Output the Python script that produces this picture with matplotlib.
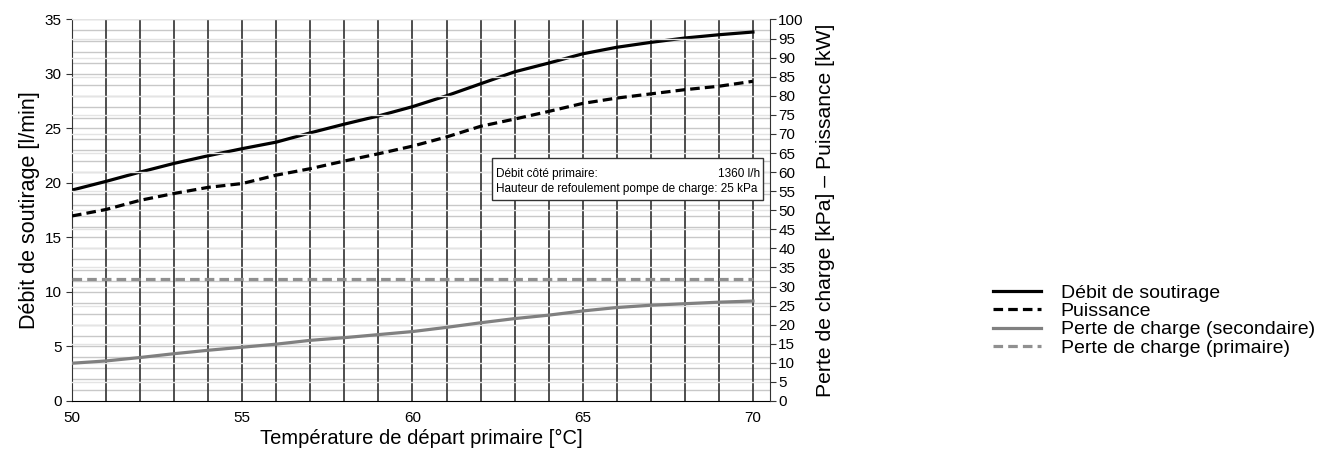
import matplotlib.pyplot as plt
from matplotlib.lines import Line2D

plt.rcParams['font.family'] = ['Liberation Sans', 'DejaVu Sans']

temps = [50, 51, 52, 53, 54, 55, 56, 57, 58, 59, 60, 61, 62, 63, 64, 65, 66, 67, 68, 69, 70]
debit = [19.35, 20.15, 21.0, 21.8, 22.5, 23.15, 23.75, 24.6, 25.4, 26.15, 27.0, 28.0,
         29.1, 30.2, 31.0, 31.85, 32.45, 32.9, 33.3, 33.6, 33.85]
puissance = [48.5, 50.2, 52.6, 54.4, 56.0, 57.0, 59.2, 60.9, 62.9, 64.8, 66.8, 69.2,
             72.0, 73.9, 75.9, 78.0, 79.4, 80.5, 81.6, 82.5, 83.8]
perte_sec = [9.9, 10.5, 11.4, 12.4, 13.3, 14.1, 14.9, 15.9, 16.6, 17.4, 18.2, 19.3,
             20.5, 21.6, 22.5, 23.6, 24.5, 25.1, 25.5, 25.9, 26.2]
perte_prim = [32] * len(temps)

labels = ["Débit de soutirage", "Puissance",
          "Perte de charge (secondaire)", "Perte de charge (primaire)"]

fig = plt.figure(figsize=(13.36, 4.5), dpi=100)
ax = fig.add_axes([0.0539, 0.1089, 0.5224, 0.8478])
ax2 = ax.twinx()

ax.set_xlim(50, 70.5)
ax.set_ylim(0, 35)
ax2.set_ylim(0, 100)

# grid: right-axis lines every 5, left-axis lines every 1, verticals every degree
for v in range(5, 101, 5):
    ax2.axhline(v, color='#e4e4e4', lw=1.0, zorder=0)
for v in range(1, 36):
    ax.axhline(v, color='#c8c8c8', lw=1.0, zorder=0)
for t in range(51, 71):
    ax.axvline(t, color='#404040', lw=1.3, zorder=1)

ax.plot(temps, debit, color='black', lw=2.3, zorder=3)
ax2.plot(temps, puissance, color='black', lw=2.3, ls=(0, (3, 1.6)), zorder=3)
ax2.plot(temps, perte_sec, color='#808080', lw=2.3, zorder=3)
ax2.plot(temps, perte_prim, color='#909090', lw=2.3, ls=(0, (3, 1.6)), zorder=3)

ax.set_xticks([50, 55, 60, 65, 70])
ax.set_yticks(range(0, 36, 5))
ax2.set_yticks(range(0, 101, 5))
ax.tick_params(axis='x', length=0, labelsize=11, pad=7)
ax.tick_params(axis='y', length=4, labelsize=11, color='#333333')
ax2.tick_params(axis='y', length=4, labelsize=11, color='#333333', pad=2)

for a in (ax, ax2):
    a.spines['top'].set_visible(False)
    a.spines['left'].set_color('#333333')
    a.spines['right'].set_color('#333333')
    a.spines['bottom'].set_color('black')
ax.spines['right'].set_visible(False)
ax2.spines['left'].set_visible(False)
ax2.spines['bottom'].set_visible(False)
ax.patch.set_visible(False)
ax2.patch.set_visible(False)

ax.set_xlabel("Température de départ primaire [°C]", fontsize=14.5, labelpad=3)
ax.set_ylabel("Débit de soutirage [l/min]", fontsize=15.5, labelpad=3)
ax2.set_ylabel("Perte de charge [kPa] – Puissance [kW]", fontsize=15.2, labelpad=9)

# info box (added to the top axes so that it covers all grid lines)
box_tr = ax.transData
ax2.add_patch(plt.Rectangle((62.33, 18.4), 7.96, 3.86, facecolor='white',
                            edgecolor='#333333', lw=1.0, zorder=5, transform=box_tr))
ax2.text(62.45, 20.55, "Débit côté primaire:", fontsize=8.5, va='baseline',
         zorder=6, transform=box_tr)
ax2.text(70.2, 20.55, "1360 l/h", fontsize=8.5, va='baseline', ha='right',
         zorder=6, transform=box_tr)
ax2.text(62.45, 19.18, "Hauteur de refoulement pompe de charge: 25 kPa",
         fontsize=8.5, va='baseline', zorder=6, transform=box_tr)

handles = [
    Line2D([], [], color='black', lw=2.3),
    Line2D([], [], color='black', lw=2.3, ls=(0, (3, 1.6))),
    Line2D([], [], color='#808080', lw=2.3),
    Line2D([], [], color='#909090', lw=2.3, ls=(0, (3, 1.6))),
]
fig.legend(handles, labels, loc='center left', bbox_to_anchor=(0.743, 0.288),
           frameon=False, fontsize=14, handlelength=2.5, handletextpad=1.0,
           labelspacing=0.04, borderpad=0, borderaxespad=0)

fig.savefig('out.png', dpi=100)
